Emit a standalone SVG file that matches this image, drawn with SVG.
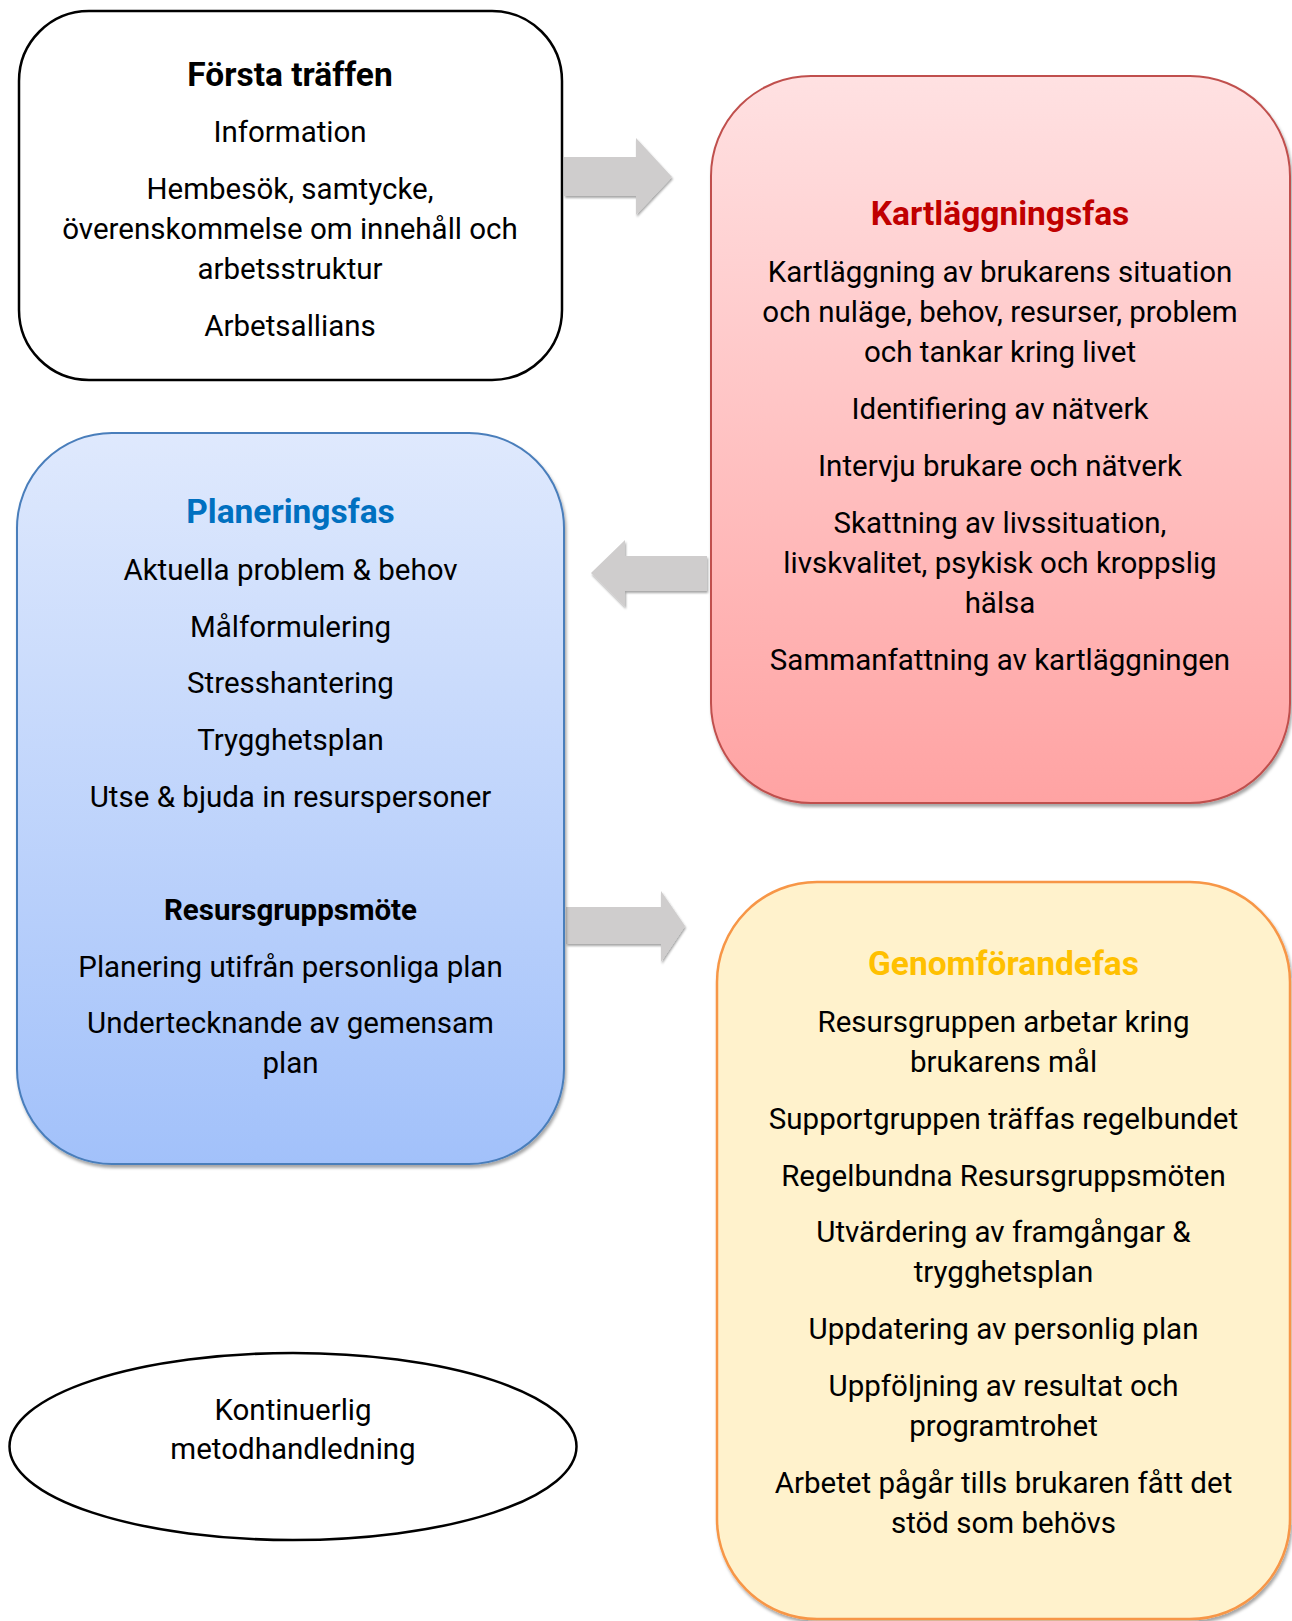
<svg xmlns="http://www.w3.org/2000/svg" width="1292" height="1621" viewBox="0 0 1292 1621">
<style>
text{font-family:Roboto,"Liberation Sans",sans-serif;font-size:29.5px;fill:#000;text-anchor:middle}
.t{font-weight:bold}
.h{font-weight:bold;font-size:33.5px}
.red{fill:#c00000}.blue{fill:#0070c0}.gold{fill:#ffc000}
.arrow{fill:#cfcdcd}
</style>
<defs>
<linearGradient id="gRed" x1="0" y1="0" x2="0" y2="1"><stop offset="0" stop-color="#ffe1e2"/><stop offset="1" stop-color="#ffa3a3"/></linearGradient>
<linearGradient id="gBlue" x1="0" y1="0" x2="0" y2="1"><stop offset="0" stop-color="#dfe9fd"/><stop offset="1" stop-color="#a2c1fa"/></linearGradient>
<filter id="sh" x="-5%" y="-5%" width="110%" height="110%"><feDropShadow dx="1.5" dy="3" stdDeviation="1.5" flood-color="#000" flood-opacity="0.35"/></filter>
<filter id="ash" x="-10%" y="-10%" width="120%" height="130%"><feDropShadow dx="1" dy="2" stdDeviation="0.8" flood-color="#000" flood-opacity="0.35"/></filter>
</defs>
<g id="connectors">
<path class="arrow" filter="url(#ash)" d="M564,157 L636,157 L636,138 L672,177 L636,215 L636,196 L564,196 Z"/>
<path class="arrow" filter="url(#ash)" d="M707,556 L625,556 L625,540 L591,573 L625,607 L625,591 L707,591 Z"/>
<path class="arrow" filter="url(#ash)" d="M566,907 L661,907 L661,891 L685,926 L661,962 L661,944 L566,944 Z"/>
</g>
<g id="forsta">
<rect x="19" y="11" width="543" height="369" rx="70" ry="70" fill="#fff" stroke="#000" stroke-width="2.5"/>
<text class="h" x="290" y="86">Första träffen</text>
<text x="290" y="142">Information</text>
<text x="290" y="199">Hembesök, samtycke,</text>
<text x="290" y="239">överenskommelse om innehåll och</text>
<text x="290" y="279">arbetsstruktur</text>
<text x="290" y="336">Arbetsallians</text>
</g>
<g id="kartlaggning">
<rect x="711" y="76" width="579" height="727" rx="100" ry="100" fill="url(#gRed)" stroke="#c0504d" stroke-width="2" filter="url(#sh)"/>
<text class="h red" x="1000" y="225">Kartläggningsfas</text>
<text x="1000" y="282">Kartläggning av brukarens situation</text>
<text x="1000" y="322">och nuläge, behov, resurser, problem</text>
<text x="1000" y="362">och tankar kring livet</text>
<text x="1000" y="419">Identifiering av nätverk</text>
<text x="1000" y="476">Intervju brukare och nätverk</text>
<text x="1000" y="533">Skattning av livssituation,</text>
<text x="1000" y="573">livskvalitet, psykisk och kroppslig</text>
<text x="1000" y="613">hälsa</text>
<text x="1000" y="670">Sammanfattning av kartläggningen</text>
</g>
<g id="planering">
<rect x="17" y="433" width="547" height="731" rx="95" ry="95" fill="url(#gBlue)" stroke="#4a7ebb" stroke-width="2" filter="url(#sh)"/>
<text class="h blue" x="290.5" y="523">Planeringsfas</text>
<text x="290.5" y="580">Aktuella problem &amp; behov</text>
<text x="290.5" y="637">Målformulering</text>
<text x="290.5" y="693">Stresshantering</text>
<text x="290.5" y="750">Trygghetsplan</text>
<text x="290.5" y="807">Utse &amp; bjuda in resurspersoner</text>
<text class="t" x="290.5" y="920">Resursgruppsmöte</text>
<text x="290.5" y="977">Planering utifrån personliga plan</text>
<text x="290.5" y="1033">Undertecknande av gemensam</text>
<text x="290.5" y="1073">plan</text>
</g>
<g id="genomforande">
<rect x="717" y="882" width="573" height="737" rx="100" ry="100" fill="#fff2cc" stroke="#f79646" stroke-width="2.5" filter="url(#sh)"/>
<text class="h gold" x="1003.5" y="975">Genomförandefas</text>
<text x="1003.5" y="1032">Resursgruppen arbetar kring</text>
<text x="1003.5" y="1072">brukarens mål</text>
<text x="1003.5" y="1129">Supportgruppen träffas regelbundet</text>
<text x="1003.5" y="1186">Regelbundna Resursgruppsmöten</text>
<text x="1003.5" y="1242">Utvärdering av framgångar &amp;</text>
<text x="1003.5" y="1282">trygghetsplan</text>
<text x="1003.5" y="1339">Uppdatering av personlig plan</text>
<text x="1003.5" y="1396">Uppföljning av resultat och</text>
<text x="1003.5" y="1436">programtrohet</text>
<text x="1003.5" y="1493">Arbetet pågår tills brukaren fått det</text>
<text x="1003.5" y="1533">stöd som behövs</text>
</g>
<g id="handledning">
<ellipse cx="293" cy="1446.5" rx="283.5" ry="93.5" fill="#fff" stroke="#000" stroke-width="2.5"/>
<text x="293" y="1420">Kontinuerlig</text>
<text x="293" y="1459">metodhandledning</text>
</g>
</svg>
